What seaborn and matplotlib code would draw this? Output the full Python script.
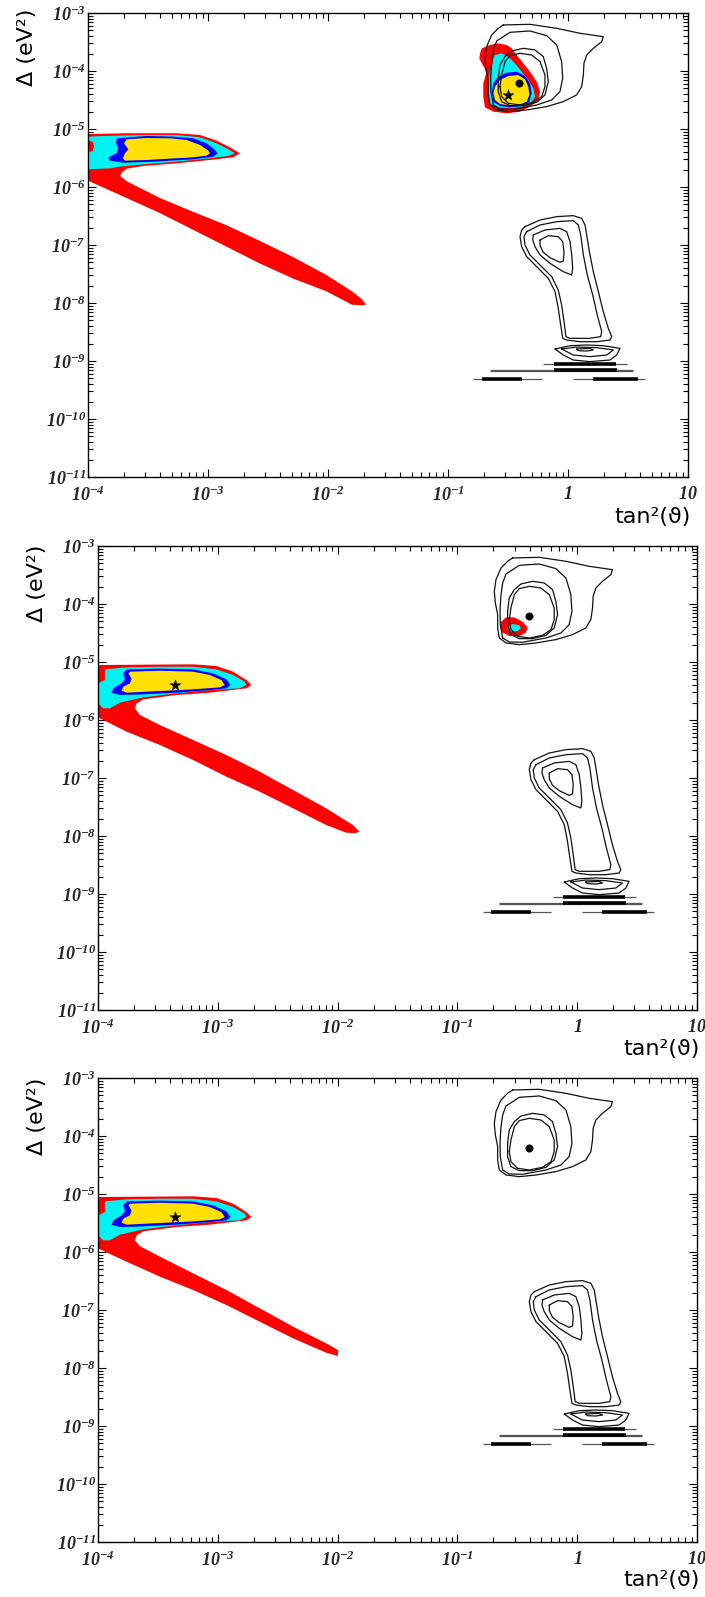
import numpy as np
import pandas as pd
import matplotlib
matplotlib.use("Agg")
import matplotlib.pyplot as plt
import seaborn as sns
from matplotlib.ticker import FixedLocator, FixedFormatter, LogLocator, NullFormatter

# ------------------------------------------------------------------
# DATA  (all coordinates are log10 values)
# ------------------------------------------------------------------
x_ticks = [1e-4, 1e-3, 1e-2, 1e-1, 1.0, 10.0]
x_tick_labels = [r"$10^{-4}$", r"$10^{-3}$", r"$10^{-2}$", r"$10^{-1}$", r"$1$", r"$10$"]
y_ticks = [1e-11, 1e-10, 1e-9, 1e-8, 1e-7, 1e-6, 1e-5, 1e-4, 1e-3]
y_tick_labels = [r"$10^{-11}$", r"$10^{-10}$", r"$10^{-9}$", r"$10^{-8}$", r"$10^{-7}$",
                 r"$10^{-6}$", r"$10^{-5}$", r"$10^{-4}$", r"$10^{-3}$"]
x_label = "tan\u00b2(\u03d1)"
y_label = "\u0394 (eV\u00b2)"

# ---- panel 1 : small-angle region -------------------------------
p1_red_x = [-4.0, -3.678, -3.261, -3.067, -2.928, -2.817, -2.733, -2.789, -2.983, -3.261,
            -3.539, -3.678, -3.719, -3.733,
            -3.678, -3.40, -3.122, -2.844, -2.567, -2.289, -2.011, -1.80, -1.72, -1.686,
            -1.70, -1.80, -2.011, -2.289, -2.567, -2.844, -3.122, -3.40, -3.678, -3.85, -4.0]
p1_red_y = [-5.086, -5.074, -5.074, -5.103, -5.201, -5.316, -5.419, -5.488, -5.534, -5.592,
            -5.638, -5.684, -5.753, -5.810,
            -5.90, -6.19, -6.43, -6.66, -6.93, -7.21, -7.52, -7.80, -7.93, -8.02,
            -8.04, -8.03, -7.80, -7.58, -7.32, -7.03, -6.74, -6.45, -6.19, -6.03, -5.89]
p1_cyan_x = [-3.997, -3.872, -3.539, -3.261, -3.067, -2.928, -2.831, -2.775, -2.831, -2.983,
             -3.261, -3.539, -3.733, -3.817, -3.997]
p1_cyan_y = [-5.132, -5.120, -5.103, -5.103, -5.143, -5.247, -5.350, -5.419, -5.465, -5.505,
             -5.563, -5.609, -5.649, -5.678, -5.695]
p1_notch_x = [-4.0, -3.96, -3.95, -3.96, -4.0]
p1_notch_y = [-5.20, -5.22, -5.30, -5.38, -5.40]
p1_blue_x = [-3.761, -3.511, -3.289, -3.122, -3.011, -2.942, -2.922, -2.956, -3.122, -3.317,
             -3.511, -3.706, -3.817, -3.830, -3.761, -3.747, -3.767]
p1_blue_y = [-5.161, -5.120, -5.132, -5.161, -5.247, -5.362, -5.419, -5.477, -5.523, -5.546,
             -5.569, -5.580, -5.546, -5.488, -5.419, -5.333, -5.247]
p1_yellow_x = [-3.678, -3.511, -3.317, -3.178, -3.067, -2.997, -2.983, -3.011, -3.122, -3.317,
               -3.511, -3.692, -3.711, -3.692, -3.664, -3.700]
p1_yellow_y = [-5.178, -5.155, -5.161, -5.189, -5.275, -5.373, -5.419, -5.459, -5.488, -5.511,
               -5.534, -5.546, -5.505, -5.419, -5.350, -5.247]

# ---- panel 1 : large-angle island --------------------------------
p1_lma_red_x = [-0.733, -0.719, -0.650, -0.581, -0.511, -0.469, -0.428, -0.372, -0.317, -0.261,
                -0.233, -0.247, -0.317, -0.400, -0.511, -0.622, -0.692, -0.706, -0.706, -0.678,
                -0.719, -0.739]
p1_lma_red_y = [-3.696, -3.609, -3.552, -3.523, -3.552, -3.609, -3.724, -3.868, -4.012, -4.184,
                -4.356, -4.500, -4.615, -4.701, -4.730, -4.701, -4.627, -4.443, -4.213, -4.012,
                -3.868, -3.782]
p1_lma_cyan_x = [-0.622, -0.608, -0.553, -0.497, -0.442, -0.386, -0.331, -0.289, -0.275, -0.303,
                 -0.372, -0.483, -0.581, -0.650, -0.664, -0.664, -0.650, -0.628]
p1_lma_cyan_y = [-3.782, -3.724, -3.696, -3.753, -3.868, -4.012, -4.155, -4.299, -4.443, -4.529,
                 -4.615, -4.644, -4.627, -4.569, -4.414, -4.213, -4.012, -3.868]
p1_lma_blue_x = [-0.622, -0.581, -0.511, -0.428, -0.358, -0.317, -0.303, -0.322, -0.386, -0.483,
                 -0.567, -0.622, -0.636]
p1_lma_blue_y = [-4.213, -4.098, -4.029, -4.012, -4.086, -4.213, -4.385, -4.529, -4.604, -4.627,
                 -4.604, -4.529, -4.385]
p1_lma_yellow_x = [-0.608, -0.567, -0.497, -0.414, -0.358, -0.331, -0.322, -0.344, -0.400, -0.497,
                   -0.567, -0.608, -0.622]
p1_lma_yellow_y = [-4.270, -4.155, -4.086, -4.069, -4.144, -4.270, -4.414, -4.529, -4.575, -4.592,
                   -4.569, -4.500, -4.385]
p1_star = (-0.503, -4.414)

# ---- panels 2 and 3 : small-angle lobe (identical in both) -------
p23_lobe_x = [-4.0, -3.206, -3.011, -2.872, -2.761, -2.72, -2.761, -3.067, -3.344, -3.622,
              -3.68, -3.692]
p23_lobe_y = [-5.052, -5.040, -5.069, -5.167, -5.311, -5.397, -5.454, -5.529, -5.569, -5.644,
              -5.72, -5.799]
p2_band_x = [-3.65, -3.483, -3.206, -2.928, -2.650, -2.372, -2.095, -1.872, -1.817,
             -1.85, -1.928, -2.095, -2.372, -2.650, -2.928, -3.206, -3.483, -3.761, -4.0]
p2_band_y = [-5.914, -6.087, -6.345, -6.604, -6.891, -7.207, -7.523, -7.811, -7.925,
             -7.95, -7.943, -7.811, -7.523, -7.236, -6.977, -6.690, -6.431, -6.201, -5.954]
p3_band_x = [-3.65, -3.483, -3.206, -2.928, -2.650, -2.372, -2.095, -1.997,
             -1.997, -2.095, -2.372, -2.650, -2.928, -3.206, -3.483, -3.761, -4.0]
p3_band_y = [-5.90, -6.08, -6.368, -6.655, -6.971, -7.287, -7.575, -7.69,
             -7.793, -7.736, -7.488, -7.201, -6.914, -6.655, -6.425, -6.167, -5.937]
p23_cyan_x = [-4.0, -3.942, -3.942, -3.761, -3.483, -3.206, -3.011, -2.872, -2.775, -2.761,
              -2.817, -3.067, -3.344, -3.622, -3.817, -3.900, -3.956, -4.0]
p23_cyan_y = [-5.368, -5.311, -5.127, -5.092, -5.081, -5.081, -5.127, -5.224, -5.339, -5.397,
              -5.454, -5.483, -5.540, -5.610, -5.701, -5.799, -5.799, -5.713]
p23_blue_x = [-3.761, -3.483, -3.206, -3.039, -2.928, -2.895, -2.928, -3.067, -3.344, -3.622,
              -3.817, -3.886, -3.872, -3.803, -3.775, -3.789]
p23_blue_y = [-5.127, -5.115, -5.127, -5.196, -5.299, -5.397, -5.454, -5.483, -5.529, -5.558,
              -5.569, -5.529, -5.454, -5.368, -5.299, -5.196]
p23_yellow_x = [-3.733, -3.483, -3.206, -3.067, -2.970, -2.942, -2.983, -3.206, -3.483, -3.761,
                -3.803, -3.789, -3.733, -3.720, -3.747]
p23_yellow_y = [-5.167, -5.150, -5.167, -5.224, -5.311, -5.397, -5.437, -5.472, -5.500, -5.529,
                -5.494, -5.425, -5.368, -5.282, -5.196]
p23_star = (-3.358, -5.40)

# ---- panel 2 : small spot in the large-angle island --------------
p2_lma_red_x = [-0.636, -0.594, -0.525, -0.456, -0.414, -0.428, -0.483, -0.567, -0.622, -0.642]
p2_lma_red_y = [-4.305, -4.230, -4.230, -4.305, -4.403, -4.495, -4.552, -4.552, -4.495, -4.391]
p2_lma_cyan_x = [-0.581, -0.539, -0.483, -0.469, -0.497, -0.553, -0.581]
p2_lma_cyan_y = [-4.380, -4.345, -4.368, -4.420, -4.466, -4.477, -4.437]

# best-fit dot (all panels)
dot_pt = (-0.406, -4.212)

# ---- black contour lines (same in all panels) --------------------
lma_c1_x = [-0.539, -0.317, -0.094, 0.1, 0.294, 0.281, 0.211, 0.156, 0.133, 0.128, 0.114, 0.072,
            -0.039, -0.178, -0.344, -0.483, -0.594, -0.65, -0.664, -0.664, -0.683, -0.692,
            -0.678, -0.636, -0.581]
lma_c1_y = [-3.206, -3.195, -3.264, -3.350, -3.408, -3.494, -3.609, -3.724, -3.867, -4.068,
            -4.270, -4.413, -4.528, -4.614, -4.672, -4.701, -4.672, -4.586, -4.413, -4.183,
            -3.982, -3.781, -3.580, -3.379, -3.264]
lma_c2_x = [-0.622, -0.642, -0.644, -0.636, -0.622, -0.594, -0.483, -0.317, -0.178, -0.094,
            -0.053, -0.044, -0.067, -0.136, -0.261, -0.456, -0.567]
lma_c2_y = [-4.586, -4.356, -4.097, -3.839, -3.637, -3.482, -3.333, -3.310, -3.390, -3.551,
            -3.839, -4.126, -4.356, -4.500, -4.586, -4.660, -4.655]
lma_c3_x = [-0.581, -0.567, -0.525, -0.469, -0.372, -0.275, -0.206, -0.178, -0.164, -0.192,
            -0.261, -0.372, -0.483, -0.553, -0.581]
lma_c3_y = [-4.126, -3.896, -3.752, -3.655, -3.609, -3.637, -3.752, -3.954, -4.183, -4.413,
            -4.540, -4.597, -4.597, -4.528, -4.356]
lma_c4_x = [-0.567, -0.553, -0.525, -0.483, -0.4, -0.303, -0.233, -0.192, -0.192, -0.219,
            -0.289, -0.4, -0.497, -0.553]
lma_c4_y = [-4.270, -4.068, -3.839, -3.735, -3.695, -3.724, -3.839, -4.068, -4.270, -4.442,
            -4.540, -4.586, -4.557, -4.442]

low_c1_x = [-0.358, -0.233, -0.094, 0.044, 0.114, 0.142, 0.156, 0.178, 0.211, 0.253, 0.294,
            0.336, 0.364, 0.35, 0.239, 0.1, -0.011, -0.044, -0.061, -0.081, -0.108, -0.164,
            -0.261, -0.344, -0.386, -0.4, -0.386]
low_c1_y = [-6.684, -6.569, -6.511, -6.494, -6.540, -6.655, -6.827, -7.115, -7.460, -7.804,
            -8.149, -8.437, -8.580, -8.638, -8.667, -8.667, -8.638, -8.609, -8.379, -8.092,
            -7.804, -7.575, -7.373, -7.201, -7.029, -6.856, -6.741]
low_c2_x = [-0.344, -0.233, -0.094, 0.044, 0.086, 0.106, 0.128, 0.161, 0.206, 0.244, 0.281,
            0.272, 0.183, 0.017, -0.017, -0.033, -0.053, -0.081, -0.136, -0.233, -0.317,
            -0.358, -0.367]
low_c2_y = [-6.770, -6.655, -6.598, -6.580, -6.655, -6.827, -7.172, -7.517, -7.862, -8.207,
            -8.494, -8.580, -8.609, -8.609, -8.580, -8.322, -8.034, -7.776, -7.546, -7.345,
            -7.172, -7.0, -6.856]
low_c3_x = [-0.289, -0.192, -0.067, -0.011, 0.017, 0.031, 0.039, 0.031, -0.039, -0.15, -0.233,
            -0.275, -0.294]
low_c3_y = [-6.827, -6.741, -6.713, -6.770, -6.942, -7.172, -7.402, -7.517, -7.460, -7.316,
            -7.172, -7.029, -6.914]
low_c4_x = [-0.233, -0.164, -0.081, -0.044, -0.033, -0.039, -0.067, -0.15, -0.206, -0.233]
low_c4_y = [-6.914, -6.839, -6.856, -6.942, -7.115, -7.276, -7.299, -7.218, -7.126, -7.011]
lens_c1_x = [-0.108, 0.017, 0.156, 0.294, 0.433, 0.406, 0.35, 0.183, 0.044, -0.039]
lens_c1_y = [-8.793, -8.736, -8.724, -8.736, -8.782, -8.897, -8.983, -9.011, -8.983, -8.897]
lens_c2_x = [-0.053, 0.072, 0.239, 0.378, 0.322, 0.183, 0.044]
lens_c2_y = [-8.793, -8.759, -8.770, -8.810, -8.897, -8.925, -8.897]
lens_c3_x = [0.072, 0.183, 0.211, 0.156, 0.086]
lens_c3_y = [-8.793, -8.782, -8.810, -8.828, -8.822]

# thin horizontal streaks below the lens (log10 y, x from, x to)
streak_thin_y = [-9.057, -9.150, -9.165, -9.316, -9.316]
streak_thin_x0 = [-0.206, -0.65, -0.65, -0.789, 0.044]
streak_thin_x1 = [0.489, 0.544, 0.544, -0.219, 0.642]
streak_thick_y = [-9.057, -9.158, -9.316, -9.316]
streak_thick_x0 = [-0.12, -0.12, -0.719, 0.211]
streak_thick_x1 = [0.40, 0.406, -0.386, 0.586]

contours = [(lma_c1_x, lma_c1_y), (lma_c2_x, lma_c2_y), (lma_c3_x, lma_c3_y),
            (lma_c4_x, lma_c4_y), (low_c1_x, low_c1_y), (low_c2_x, low_c2_y),
            (low_c3_x, low_c3_y), (low_c4_x, low_c4_y), (lens_c1_x, lens_c1_y),
            (lens_c2_x, lens_c2_y), (lens_c3_x, lens_c3_y)]

# what each panel shows: list of (x, y, colour) fills, star position
panel_fills = [
    [(p1_red_x, p1_red_y, "red"), (p1_cyan_x, p1_cyan_y, "cyan"),
     (p1_notch_x, p1_notch_y, "red"), (p1_blue_x, p1_blue_y, "blue"),
     (p1_yellow_x, p1_yellow_y, "yellow"),
     (p1_lma_red_x, p1_lma_red_y, "red"), (p1_lma_cyan_x, p1_lma_cyan_y, "cyan"),
     (p1_lma_blue_x, p1_lma_blue_y, "blue"), (p1_lma_yellow_x, p1_lma_yellow_y, "yellow")],
    [(p23_lobe_x + p2_band_x, p23_lobe_y + p2_band_y, "red"), (p23_cyan_x, p23_cyan_y, "cyan"),
     (p23_blue_x, p23_blue_y, "blue"), (p23_yellow_x, p23_yellow_y, "yellow"),
     (p2_lma_red_x, p2_lma_red_y, "red"), (p2_lma_cyan_x, p2_lma_cyan_y, "cyan")],
    [(p23_lobe_x + p3_band_x, p23_lobe_y + p3_band_y, "red"), (p23_cyan_x, p23_cyan_y, "cyan"),
     (p23_blue_x, p23_blue_y, "blue"), (p23_yellow_x, p23_yellow_y, "yellow")],
]
panel_stars = [p1_star, p23_star, p23_star]

# ------------------------------------------------------------------
# STYLE / LAYOUT
# ------------------------------------------------------------------
colours = {"red": "#FF0000", "cyan": "#00F2F2", "blue": "#0000FF", "yellow": "#FFE000"}
W, H = 705, 1597
# axes boxes in pixels: left, top, right, bottom
boxes = [(88, 13, 688, 477), (98, 546, 697, 1010), (98, 1078, 697, 1542)]
ylab_pos = [(27, 47), (37, 583), (37, 1116)]
xlab_pos = [(691, 517), (700, 1049), (700, 1580)]

sns.set_style("ticks")
plt.rcParams["font.family"] = ["DejaVu Sans"]
plt.rcParams["mathtext.fontset"] = "custom"
plt.rcParams["mathtext.rm"] = "Liberation Serif:bold:italic"
plt.rcParams["mathtext.it"] = "Liberation Serif:bold:italic"
plt.rcParams["mathtext.bf"] = "Liberation Serif:bold:italic"

fig = plt.figure(figsize=(W / 100, H / 100), dpi=100)
fig.patch.set_facecolor("white")

# contour table
rows = []
for cid, (cx, cy) in enumerate(contours):
    xs = list(cx) + [cx[0]]
    ys = list(cy) + [cy[0]]
    for a, b in zip(xs, ys):
        rows.append((cid, 10 ** a, 10 ** b))
cont_df = pd.DataFrame(rows, columns=["cid", "x", "y"])

for i, (l, t, r, b) in enumerate(boxes):
    ax = fig.add_axes([l / W, 1 - b / H, (r - l) / W, (b - t) / H])
    ax.set_xscale("log")
    ax.set_yscale("log")
    ax.set_xlim(1e-4, 10)
    ax.set_ylim(1e-11, 1e-3)
    ax.set_facecolor("white")

    for fx, fy, c in panel_fills[i]:
        ax.fill(10 ** np.array(fx), 10 ** np.array(fy), color=colours[c], lw=0, zorder=2)

    sns.lineplot(data=cont_df, x="x", y="y", units="cid", estimator=None, sort=False,
                 color="#111111", lw=0.9, ax=ax, zorder=3, legend=False)

    ax.hlines(10 ** np.array(streak_thin_y), 10 ** np.array(streak_thin_x0),
              10 ** np.array(streak_thin_x1), color="#555555", lw=0.9, zorder=3)
    ax.hlines(10 ** np.array(streak_thick_y), 10 ** np.array(streak_thick_x0),
              10 ** np.array(streak_thick_x1), color="black", lw=2.6, zorder=3)

    mk = pd.DataFrame({"x": [10 ** dot_pt[0]], "y": [10 ** dot_pt[1]]})
    sns.scatterplot(data=mk, x="x", y="y", marker="o", s=28, color="black",
                    edgecolor="black", ax=ax, zorder=4)
    st = pd.DataFrame({"x": [10 ** panel_stars[i][0]], "y": [10 ** panel_stars[i][1]]})
    sns.scatterplot(data=st, x="x", y="y", marker="*", s=70, color="black",
                    edgecolor="black", linewidth=0.3, ax=ax, zorder=4)

    ax.set_xlabel("")
    ax.set_ylabel("")
    ax.xaxis.set_major_locator(FixedLocator(x_ticks))
    ax.xaxis.set_major_formatter(FixedFormatter(x_tick_labels))
    ax.yaxis.set_major_locator(FixedLocator(y_ticks))
    ax.yaxis.set_major_formatter(FixedFormatter(y_tick_labels))
    ax.xaxis.set_minor_locator(LogLocator(base=10, subs=np.arange(2, 10), numticks=100))
    ax.yaxis.set_minor_locator(LogLocator(base=10, subs=np.arange(2, 10), numticks=100))
    ax.xaxis.set_minor_formatter(NullFormatter())
    ax.yaxis.set_minor_formatter(NullFormatter())
    ax.tick_params(which="both", direction="in", top=True, right=True, width=0.8,
                   color="black")
    ax.tick_params(which="major", length=6)
    ax.tick_params(which="minor", length=3.5)
    ax.tick_params(axis="x", which="major", pad=6, labelsize=13)
    ax.tick_params(axis="y", which="major", pad=1.5, labelsize=13)
    for sp in ax.spines.values():
        sp.set_visible(True)
        sp.set_linewidth(1.0)
        sp.set_color("black")

    yx, yy = ylab_pos[i]
    fig.text(yx / W, 1 - yy / H, y_label, rotation=90, ha="center", va="center",
             fontsize=16, color="black")
    xx, xy = xlab_pos[i]
    fig.text(xx / W, 1 - xy / H, x_label, ha="right", va="center", fontsize=16,
             color="black")

fig.savefig("out.png", dpi=100, facecolor="white")
